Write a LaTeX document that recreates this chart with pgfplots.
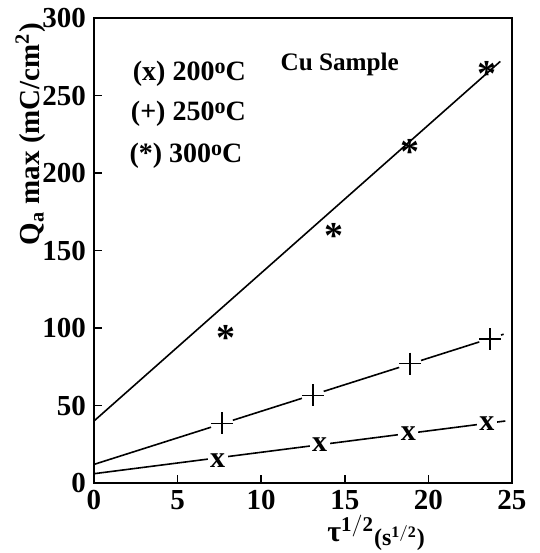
\documentclass[border=0pt]{standalone}
\usepackage{fontspec}
\setmainfont{Liberation Serif}
\usepackage{pgfplots}
\pgfplotsset{compat=1.18}

\begin{document}
\begin{tikzpicture}
\path[use as bounding box] (-47pt,-35pt) rectangle (223pt,241.5pt);
\begin{axis}[
    scale only axis,
    width=209pt,
    height=232.5pt,
    xmin=0, xmax=25,
    ymin=0, ymax=300,
    xtick={0,5,...,25},
    ytick={0,50,...,300},
    tick align=inside,
    tick pos=left,
    major tick length=4pt,
    axis line style={line width=1.2pt},
    tick style={line width=0.8pt, black},
    /pgf/number format/assume math mode=true,
    tick label style={font=\bfseries\fontsize{14.5}{16}\selectfont},
    xticklabel style={yshift=0pt},
    yticklabel style={xshift=-0.5pt},
    ylabel={Q$_{\mathbf{a}}$ max (mC/cm$^{\mathbf{2}}$)},
    ylabel style={font=\bfseries\fontsize{14.5}{16}\selectfont,
        at={(rel axis cs:-0.152,0.75)}, anchor=center},
    xlabel={τ$^{\mathbf{1/2}}$\raisebox{-2pt}{\fontsize{12}{14}\selectfont(s$^{\mathbf{1/2}}$)}},
    xlabel style={font=\bfseries\fontsize{15}{17}\selectfont,
        at={(rel axis cs:0.675,0)}, anchor=center, yshift=-25pt},
    clip=false,
    text mark as node=true,
]
% fitted lines
\addplot[black, line width=0.8pt] coordinates {(0,40) (24.3,272)};
\addplot[black, line width=0.8pt] coordinates {(0,12) (24.5,96)};
\addplot[black, line width=0.8pt] coordinates {(0,6) (24.6,40)};
% gaps around + marks
\addplot[only marks, mark=*, mark size=5.5pt, white] coordinates {
(7.65,38.5) (13.1,56.5) (18.9,77) (23.7,92.8)};
% 300 C
\addplot[only marks, mark=text, text mark={\textbf{*}},
    text mark style={font=\fontsize{19}{19}\selectfont, yshift=-2.5pt}]
    coordinates {(7.9,97) (14.35,162.5) (18.9,217) (23.5,267)};
% 250 C
\addplot[only marks, mark=+, mark size=5.5pt, line width=0.8pt, black] coordinates {
(7.65,38.5) (13.1,56.5) (18.9,77) (23.7,92.8)};
% 200 C
\addplot[only marks, mark=text, text mark={\textbf{x}},
    text mark style={font=\fontsize{15}{15}\selectfont, fill=white, inner sep=1.2pt}]
    coordinates {(7.4,14.5) (13.5,25) (18.8,32) (23.5,38.5)};

\node[font=\bfseries\fontsize{12.6}{14}\selectfont] at (axis cs:14.7,270) {Cu Sample};
\node[font=\bfseries\fontsize{14}{16}\selectfont, anchor=east] at (axis cs:9.5,264) {(x) 200\raisebox{0.55ex}{\fontsize{11}{12}\selectfont o}C};
\node[font=\bfseries\fontsize{14}{16}\selectfont, anchor=east] at (axis cs:9.5,238) {(+) 250\raisebox{0.55ex}{\fontsize{11}{12}\selectfont o}C};
\node[font=\bfseries\fontsize{14}{16}\selectfont, anchor=east] at (axis cs:9.3,211) {(*) 300\raisebox{0.55ex}{\fontsize{11}{12}\selectfont o}C};
\end{axis}
\end{tikzpicture}
\end{document}
